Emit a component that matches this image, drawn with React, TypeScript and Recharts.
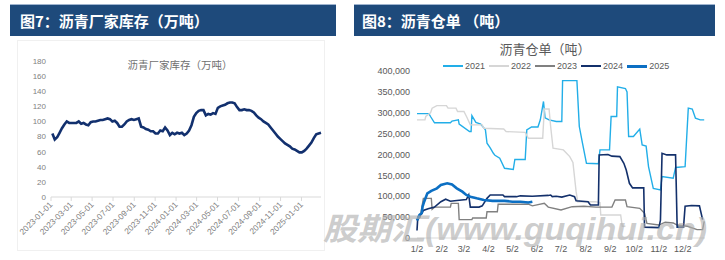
import React from 'react';
import { LineChart, Line, XAxis, YAxis } from 'recharts';

// ---------- Figure 7: producer inventory (10k tons) ----------
const invDates = [
  '2023-01-05','2023-01-12','2023-01-19','2023-01-26','2023-02-02','2023-02-09','2023-02-16','2023-02-23',
  '2023-03-02','2023-03-09','2023-03-16','2023-03-23','2023-03-30','2023-04-06','2023-04-13','2023-04-20',
  '2023-04-27','2023-05-04','2023-05-11','2023-05-18','2023-05-25','2023-06-01','2023-06-08','2023-06-15',
  '2023-06-22','2023-06-29','2023-07-06','2023-07-13','2023-07-20','2023-07-27','2023-08-03','2023-08-10',
  '2023-08-17','2023-08-24','2023-08-31','2023-09-07','2023-09-14','2023-09-21','2023-09-28','2023-10-05',
  '2023-10-12','2023-10-19','2023-10-26','2023-11-02','2023-11-09','2023-11-16','2023-11-23','2023-11-30',
  '2023-12-07','2023-12-14','2023-12-21','2023-12-28','2024-01-04','2024-01-11','2024-01-18','2024-01-25',
  '2024-02-01','2024-02-08','2024-02-15','2024-02-22','2024-02-29','2024-03-07','2024-03-14','2024-03-21',
  '2024-03-28','2024-04-04','2024-04-11','2024-04-18','2024-04-25','2024-05-02','2024-05-09','2024-05-16',
  '2024-05-23','2024-05-30','2024-06-06','2024-06-13','2024-06-20','2024-06-27','2024-07-04','2024-07-11',
  '2024-07-18','2024-07-25','2024-08-01','2024-08-08','2024-08-15','2024-08-22','2024-08-29','2024-09-05',
  '2024-09-12','2024-09-19','2024-09-26','2024-10-03','2024-10-10','2024-10-17','2024-10-24','2024-10-31',
  '2024-11-07','2024-11-14','2024-11-21','2024-11-28','2024-12-05','2024-12-12','2024-12-19','2024-12-26',
  '2025-01-02','2025-01-09','2025-01-16','2025-01-23','2025-01-30','2025-02-06','2025-02-13','2025-02-20',
  '2025-02-27',
];
const invValues = [
  84, 76, 79, 85, 91, 96, 100, 98,
  98, 98, 98, 100, 97, 98, 96, 95,
  99, 100, 100, 101, 102, 102, 103, 104,
  103, 100, 101, 98, 93, 93, 96, 100,
  102, 103, 102, 103, 104, 93, 92, 90,
  89, 87, 87, 84, 84, 88, 87, 92,
  88, 82, 85, 83, 85, 84, 85, 82,
  84, 88, 95, 106, 111, 114, 115, 115,
  108, 110, 109, 111, 110, 118, 120, 121,
  122, 124, 125, 125, 124, 119, 115, 115,
  116, 115, 115, 114, 112, 108, 105, 103,
  100, 98, 96, 92, 88, 84, 80, 77,
  74, 71, 69, 67, 64, 63, 61, 59,
  59, 61, 64, 68, 72, 78, 83, 84,
  85,
];
const invXTicks = [
  '2023-01-01','2023-03-01','2023-05-01','2023-07-01','2023-09-01','2023-11-01',
  '2024-01-01','2024-03-01','2024-05-01','2024-07-01','2024-09-01','2024-11-01','2025-01-01',
];
const invYTicks = [0, 20, 40, 60, 80, 100, 120, 140, 160, 180];

// ---------- Figure 8: warehouse receipts (tons) ----------
const years = ['2021', '2022', '2023', '2024', '2025'];
const seasonTickDays = [0, 31, 59, 90, 120, 151, 181, 212, 243, 273, 304, 334];
const seasonTickLabels = ['1/2','2/2','3/2','4/2','5/2','6/2','7/2','8/2','9/2','10/2','11/2','12/2'];
const receiptYTicks = [0, 50000, 100000, 150000, 200000, 250000, 300000, 350000, 400000];

const days2021 = [0,15,17,22,42,44,52,53,66,68,69,74,80,86,88,92,96,98,104,110,121,123,136,138,144,152,155,159,161,166,175,182,183,201,204,208,213,228,230,242,244,251,252,262,264,266,272,280,283,288,291,297,306,308,322,325,337,341,346,350,356,361];
const vals2021 = [298000,298000,291000,276000,276000,280000,283000,273000,255000,255000,293000,277000,273000,259000,227000,216000,203000,198000,191000,167000,164000,188000,188000,259000,266000,266000,283000,327000,288000,283000,279000,279000,377000,377000,267000,227000,179000,178000,211000,211000,291000,291000,362000,358000,350000,243000,243000,261000,223000,220000,171000,119000,115000,147000,143000,169000,171000,311000,309000,287000,283000,283000];

const days2022 = [0,10,11,17,19,25,37,39,49,51,59,63,67,82,84,109,112,136,140,158,160,166,168,171,184,192,196,200,202,224,230,231,256,258,262];
const vals2022 = [283000,283000,291000,300000,311000,317000,317000,311000,311000,303000,303000,288000,271000,271000,263000,261000,255000,253000,239000,239000,309000,309000,267000,215000,211000,195000,181000,111000,87000,87000,85000,55000,55000,28000,28000];

const days2023 = [0,4,8,18,19,22,42,43,52,53,69,70,87,88,101,102,140,145,160,165,181,195,210,225,245,249,262,264,280,286,289,304,312,322,327,340,352,359,361];
const vals2023 = [42000,50000,95000,95000,69000,74000,74000,83000,83000,44000,44000,48000,48000,63000,63000,81000,81000,77000,83000,74000,67000,75000,76000,74000,74000,91000,91000,75000,71000,59000,35000,31000,38000,36000,31000,28000,20000,20000,40000];

const days2024 = [0,1,6,8,14,22,30,36,42,50,62,65,67,78,82,88,92,108,110,125,130,145,165,168,170,175,182,192,198,200,215,218,228,229,240,245,255,260,263,267,271,285,286,304,306,308,314,325,327,335,337,345,355,359];
const vals2024 = [18000,50000,58000,66000,70000,74000,87000,93000,88000,90000,92000,103000,74000,74000,77000,95000,103000,103000,99000,99000,101000,100000,102000,103000,99000,100000,98000,103000,99000,89000,87000,79000,79000,199000,200000,196000,195000,179000,163000,131000,120000,120000,26000,25000,43000,203000,199000,199000,26000,26000,76000,78000,77000,44000];

const days2025 = [0,3,6,7,9,13,18,25,30,38,44,50,57,62,67,75,84,95,110,120,130,140,145];
const vals2025 = [42000,55000,60000,75000,87000,107000,113000,119000,127000,131000,128000,119000,111000,103000,99000,95000,91000,89000,89000,87000,87000,85000,87000];

const seriesDays = [days2021, days2022, days2023, days2024, days2025];
const seriesVals = [vals2021, vals2022, vals2023, vals2024, vals2025];
const seriesColors = ['#22aee8', '#d6d6d6', '#808080', '#13306b', '#0c6fc3'];
const seriesWidths = [1.4, 1.4, 1.4, 1.6, 2.6];

const invData = invDates.map((d, i) => ({ t: Date.parse(d), v: invValues[i] }));
const seasonData = seriesDays.map((ds, s) => ds.map((d, i) => ({ x: d, y: seriesVals[s][i] })));

const fmtDate = (t: number) => new Date(t).toISOString().slice(0, 10);
const fmtThousands = (v: number) => v.toLocaleString('en-US');

const DateTick = (props: any) => {
  const { x, y, payload } = props;
  return (
    <text x={x} y={y} dy={3} textAnchor="end" fill="#7f7f7f" fontSize={8.3}
      fontFamily="Liberation Sans, Arial, sans-serif" transform={`rotate(-45, ${x}, ${y})`}>
      {fmtDate(payload.value)}
    </text>
  );
};

const cjk = '"Noto Sans CJK SC", "Noto Sans", sans-serif';

export default function App() {
  return (
    <div style={{ position: 'absolute', left: 0, top: 0, width: 725, height: 260, background: '#fff', overflow: 'hidden' }}>
      {/* Title bars */}
      <div style={{ position: 'absolute', left: 10, top: 4, width: 326, height: 1, background: '#9fb4cf' }} />
      <div style={{ position: 'absolute', left: 10, top: 5, width: 326, height: 31, background: '#1e4a7b', color: '#fff',
        fontFamily: cjk, fontWeight: 700, fontSize: 15, lineHeight: '31px', paddingLeft: 10, boxSizing: 'border-box' }}>
        图7：沥青厂家库存（万吨）
      </div>
      <div style={{ position: 'absolute', left: 354, top: 4, width: 361, height: 1, background: '#9fb4cf' }} />
      <div style={{ position: 'absolute', left: 354, top: 5, width: 361, height: 31, background: '#1e4a7b', color: '#fff',
        fontFamily: cjk, fontWeight: 700, fontSize: 15, lineHeight: '31px', paddingLeft: 8, boxSizing: 'border-box' }}>
        图8：沥青仓单 （吨）
      </div>

      {/* Left chart frame */}
      <div style={{ position: 'absolute', left: 17, top: 40, width: 308, height: 211, border: '1px solid #f0f0f0', boxSizing: 'border-box' }} />
      <div style={{ position: 'absolute', left: 62, top: 58, width: 236, textAlign: 'center', fontFamily: cjk,
        fontSize: 10.5, color: '#6f6f6f', lineHeight: '14px' }}>
        沥青厂家库存（万吨）
      </div>
      <div style={{ position: 'absolute', left: 0, top: 0 }}>
        <LineChart width={330} height={260} data={invData} margin={{ top: 61, right: 9, bottom: 8, left: 0 }}>
          <XAxis dataKey="t" type="number" scale="time" domain={[Date.parse('2023-01-01'), Date.parse('2025-02-27')]}
            ticks={invXTicks.map((d) => Date.parse(d))} tick={<DateTick />} tickSize={4} tickMargin={2}
            height={55} stroke="#d9d9d9" tickLine={{ stroke: '#d9d9d9' }} interval={0} />
          <YAxis type="number" domain={[0, 180]} ticks={invYTicks} width={51} tickSize={3} tickMargin={2}
            axisLine={false} tickLine={false} interval={0}
            tick={{ fill: '#7f7f7f', fontSize: 8, fontFamily: 'Liberation Sans, Arial, sans-serif' }} />
          <Line dataKey="v" stroke="#12306e" strokeWidth={2.6} dot={false} isAnimationActive={false} type="linear" />
        </LineChart>
      </div>

      {/* Right chart */}
      <div style={{ position: 'absolute', left: 440, top: 41, width: 210, textAlign: 'center', fontFamily: cjk,
        fontSize: 13, color: '#595959', lineHeight: '16px' }}>
        沥青仓单（吨）
      </div>
      <div style={{ position: 'absolute', left: 443, top: 60, height: 12, display: 'flex', alignItems: 'center',
        fontFamily: 'Liberation Sans, Arial, sans-serif', fontSize: 9, color: '#595959' }}>
        {years.map((y, i) => (
          <div key={y} style={{ display: 'flex', alignItems: 'center', marginRight: 4 }}>
            <div style={{ width: 20, height: seriesWidths[i] > 2 ? 3 : 1.5, background: seriesColors[i], marginRight: 2 }} />
            <span>{y}</span>
          </div>
        ))}
      </div>
      <div style={{ position: 'absolute', left: 362, top: 0 }}>
        <LineChart width={363} height={260} margin={{ top: 71, right: 20, bottom: 6, left: 0 }}>
          <XAxis dataKey="x" type="number" domain={[0, 362]} ticks={seasonTickDays} interval={0}
            tickFormatter={(d: number) => seasonTickLabels[seasonTickDays.indexOf(d)] ?? ''}
            height={16} stroke="#d9d9d9" tickLine={false} tickSize={6} tickMargin={2}
            tick={{ fill: '#595959', fontSize: 9, fontFamily: 'Liberation Sans, Arial, sans-serif' }} allowDuplicatedCategory={false} />
          <YAxis type="number" domain={[0, 400000]} ticks={receiptYTicks} width={55} tickSize={5} tickMargin={2}
            axisLine={false} tickLine={false} interval={0} tickFormatter={fmtThousands}
            tick={{ fill: '#595959', fontSize: 9, fontFamily: 'Liberation Sans, Arial, sans-serif' }} />
          {years.map((y, i) => (
            <Line key={y} data={seasonData[i]} dataKey="y" name={y} stroke={seriesColors[i]} strokeWidth={seriesWidths[i]}
              dot={false} isAnimationActive={false} type="linear" />
          ))}
        </LineChart>
      </div>

      {/* Watermark */}
      <svg style={{ position: 'absolute', left: 0, top: 0, pointerEvents: 'none' }} width={725} height={260}>
        <text x={323} y={240} fill="#b0b0b0" fillOpacity={0.65} fontSize={31} fontWeight={700} fontStyle="italic"
          fontFamily={'"Liberation Sans", "Noto Sans CJK SC", sans-serif'} textLength={384} lengthAdjust="spacingAndGlyphs">
          股期汇(www.guqihui.cn)
        </text>
      </svg>
    </div>
  );
}
